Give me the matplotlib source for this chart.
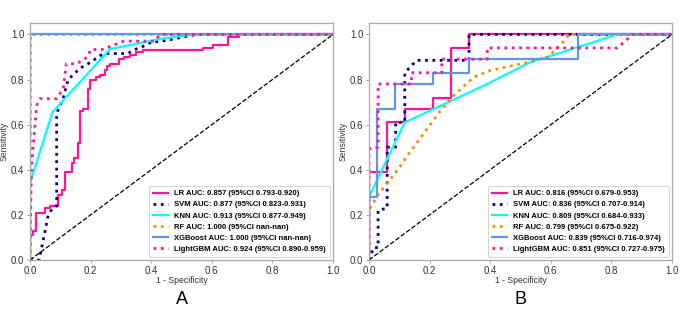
import matplotlib
matplotlib.use("Agg")
import matplotlib.pyplot as plt

plt.rcParams['font.family'] = ['Liberation Sans', 'DejaVu Sans']

# ─────────────────────────────────────────────
# Data (ROC vertices)
# ─────────────────────────────────────────────
MODELS = ["LR", "SVM", "KNN", "RF", "XGBoost", "LightGBM"]

# Panel A
A_AUC = ["0.857", "0.877", "0.913", "1.000", "1.000", "0.924"]
A_CI = ["0.793-0.920", "0.823-0.931", "0.877-0.949", "nan-nan", "nan-nan", "0.890-0.959"]

A_LR_FPR = [0, 0, 0.01, 0.01, 0.02, 0.02, 0.05, 0.05, 0.066, 0.066, 0.092, 0.092, 0.105, 0.105,
            0.116, 0.116, 0.138, 0.138, 0.146, 0.146, 0.158, 0.158, 0.165, 0.165, 0.175, 0.175,
            0.19, 0.19, 0.198, 0.198, 0.218, 0.218, 0.23, 0.23, 0.248, 0.248, 0.255, 0.255,
            0.264, 0.264, 0.294, 0.294, 0.31, 0.31, 0.33, 0.33, 0.35, 0.35, 0.373, 0.373,
            0.57, 0.57, 0.605, 0.605, 0.655, 0.655, 0.69, 0.69, 1.0]
A_LR_TPR = [0, 0.11, 0.11, 0.13, 0.13, 0.21, 0.21, 0.23, 0.23, 0.24, 0.24, 0.29, 0.29, 0.31,
            0.31, 0.39, 0.39, 0.43, 0.43, 0.45, 0.45, 0.52, 0.52, 0.66, 0.66, 0.67,
            0.67, 0.76, 0.76, 0.80, 0.80, 0.81, 0.81, 0.82, 0.82, 0.84, 0.84, 0.86,
            0.86, 0.87, 0.87, 0.89, 0.89, 0.90, 0.90, 0.91, 0.91, 0.92, 0.92, 0.93,
            0.93, 0.94, 0.94, 0.955, 0.955, 0.987, 0.987, 1.0, 1.0]

A_SVM_FPR = [0, 0.03, 0.05, 0.06, 0.07, 0.088, 0.088, 0.11, 0.126, 0.165, 0.198, 0.23, 0.248,
             0.323, 0.34, 0.37, 0.4, 0.45, 0.5, 0.55, 1.0]
A_SVM_TPR = [0, 0, 0.13, 0.2, 0.22, 0.24, 0.65, 0.72, 0.80, 0.85, 0.875, 0.905, 0.915,
             0.915, 0.93, 0.945, 0.965, 0.973, 0.987, 1.0, 1.0]

A_KNN_FPR = [0, 0, 0.074, 0.264, 0.43, 0.54, 1.0]
A_KNN_TPR = [0, 0.34, 0.655, 0.935, 0.98, 1.0, 1.0]

A_RF_FPR = [0, 0, 1.0]
A_RF_TPR = [0, 1.0, 1.0]

A_XGB_FPR = [0, 0, 1.0]
A_XGB_TPR = [0, 1.0, 1.0]

A_LGB_FPR = [0, 0, 0.005, 0.01, 0.022, 0.033, 0.088, 0.11, 0.115, 0.12, 0.155, 0.19, 0.2,
             0.238, 0.31, 0.41, 0.43, 1.0]
A_LGB_TPR = [0, 0.1, 0.4, 0.5, 0.685, 0.715, 0.715, 0.76, 0.82, 0.87, 0.87, 0.9, 0.933,
             0.933, 0.97, 0.97, 1.0, 1.0]

# Panel B
B_AUC = ["0.816", "0.836", "0.809", "0.799", "0.839", "0.851"]
B_CI = ["0.679-0.953", "0.707-0.914", "0.684-0.933", "0.675-0.922", "0.716-0.974", "0.727-0.975"]

B_LR_FPR = [0, 0, 0.06, 0.06, 0.118, 0.118, 0.21, 0.21, 0.27, 0.27, 0.33, 0.33, 1.0]
B_LR_TPR = [0, 0.39, 0.39, 0.61, 0.61, 0.67, 0.67, 0.72, 0.72, 0.94, 0.94, 1.0, 1.0]

B_SVM_FPR = [0, 0.015, 0.03, 0.03, 0.06, 0.06, 0.088, 0.088, 0.118, 0.118, 0.157, 0.33, 0.33, 1.0]
B_SVM_TPR = [0, 0.055, 0.055, 0.22, 0.23, 0.5, 0.5, 0.61, 0.61, 0.83, 0.885, 0.885, 1.0, 1.0]

B_KNN_FPR = [0, 0, 0.118, 0.39, 0.53, 0.82, 1.0]
B_KNN_TPR = [0, 0.28, 0.61, 0.78, 0.875, 1.0, 1.0]

B_RF_FPR = [0, 0, 0.03, 0.06, 0.1, 0.12, 0.18, 0.235, 0.28, 0.345, 0.4, 0.52, 0.59, 0.64, 0.66, 1.0]
B_RF_TPR = [0, 0.22, 0.29, 0.34, 0.41, 0.45, 0.56, 0.66, 0.73, 0.81, 0.84, 0.875, 0.9, 0.965, 1.0, 1.0]

B_XGB_FPR = [0, 0, 0.027, 0.027, 0.086, 0.086, 0.21, 0.21, 0.33, 0.33, 0.69, 0.69, 1.0]
B_XGB_TPR = [0, 0.28, 0.28, 0.67, 0.67, 0.78, 0.78, 0.83, 0.83, 0.89, 0.89, 1.0, 1.0]

B_LGB_FPR = [0, 0, 0.01, 0.03, 0.03, 0.14, 0.14, 0.24, 0.24, 0.39, 0.39, 0.82, 0.87, 1.0]
B_LGB_TPR = [0, 0.49, 0.5, 0.5, 0.78, 0.78, 0.83, 0.83, 0.89, 0.89, 0.94, 0.94, 1.0, 1.0]

PANEL_LABELS = ["A", "B"]

# ─────────────────────────────────────────────
# Styles
# ─────────────────────────────────────────────
STYLES = {
    "LR": dict(color="#FF1493", linestyle="-", lw=1.6),
    "SVM": dict(color="#000080", linestyle=":", lw=2.0),
    "KNN": dict(color="#00FFFF", linestyle="-", lw=1.6),
    "RF": dict(color="#FF8C00", linestyle=":", lw=2.0),
    "XGBoost": dict(color="#6495ED", linestyle="-", lw=1.6),
    "LightGBM": dict(color="#FF1493", linestyle=":", lw=2.0),
}


def draw_panel(ax, curves, aucs, cis, letter):
    for name, (fpr, tpr), auc, ci in zip(MODELS, curves, aucs, cis):
        ax.plot(fpr, tpr, label=f"{name} AUC: {auc} (95%CI {ci})", **STYLES[name])
    ax.plot([0, 1], [0, 1], "k--", lw=0.9)

    ax.set_xlim(0, 1.0)
    ax.set_ylim(0, 1.05)
    ax.set_xticks([0, 0.2, 0.4, 0.6, 0.8, 1.0])
    ax.set_yticks([0, 0.2, 0.4, 0.6, 0.8, 1.0])
    ax.tick_params(labelsize=7, colors="#333333", length=2.5, width=0.6, pad=1.5)
    ax.tick_params(axis="both", color="#999999")
    for sp in ax.spines.values():
        sp.set_color("#aaaaaa")
        sp.set_linewidth(0.9)
    ax.set_xlabel("1 - Specificity", fontsize=6.2, color="#333333", labelpad=0)
    ax.set_ylabel("Sensitivity", fontsize=6.2, color="#333333", labelpad=2)

    leg = ax.legend(loc="lower right", prop=dict(size=5.5, weight="bold"),
                    handlelength=2.0, labelspacing=0.5, borderpad=0.5,
                    handletextpad=0.8, fancybox=True, framealpha=1.0,
                    borderaxespad=0.4)
    leg.get_frame().set_edgecolor("#cccccc")
    leg.get_frame().set_linewidth(0.6)

    ax.text(0.5, -0.13, letter, transform=ax.transAxes, ha="center", va="top", fontsize=13)


fig = plt.figure(figsize=(6.85, 3.21), dpi=100)
ax_a = fig.add_axes([0.0438, 0.19, 0.4424, 0.738])
ax_b = fig.add_axes([0.5387, 0.19, 0.4424, 0.738])

curves_a = [(A_LR_FPR, A_LR_TPR), (A_SVM_FPR, A_SVM_TPR), (A_KNN_FPR, A_KNN_TPR),
            (A_RF_FPR, A_RF_TPR), (A_XGB_FPR, A_XGB_TPR), (A_LGB_FPR, A_LGB_TPR)]
curves_b = [(B_LR_FPR, B_LR_TPR), (B_SVM_FPR, B_SVM_TPR), (B_KNN_FPR, B_KNN_TPR),
            (B_RF_FPR, B_RF_TPR), (B_XGB_FPR, B_XGB_TPR), (B_LGB_FPR, B_LGB_TPR)]

draw_panel(ax_a, curves_a, A_AUC, A_CI, PANEL_LABELS[0])
draw_panel(ax_b, curves_b, B_AUC, B_CI, PANEL_LABELS[1])

fig.savefig("out.png", dpi=100)
